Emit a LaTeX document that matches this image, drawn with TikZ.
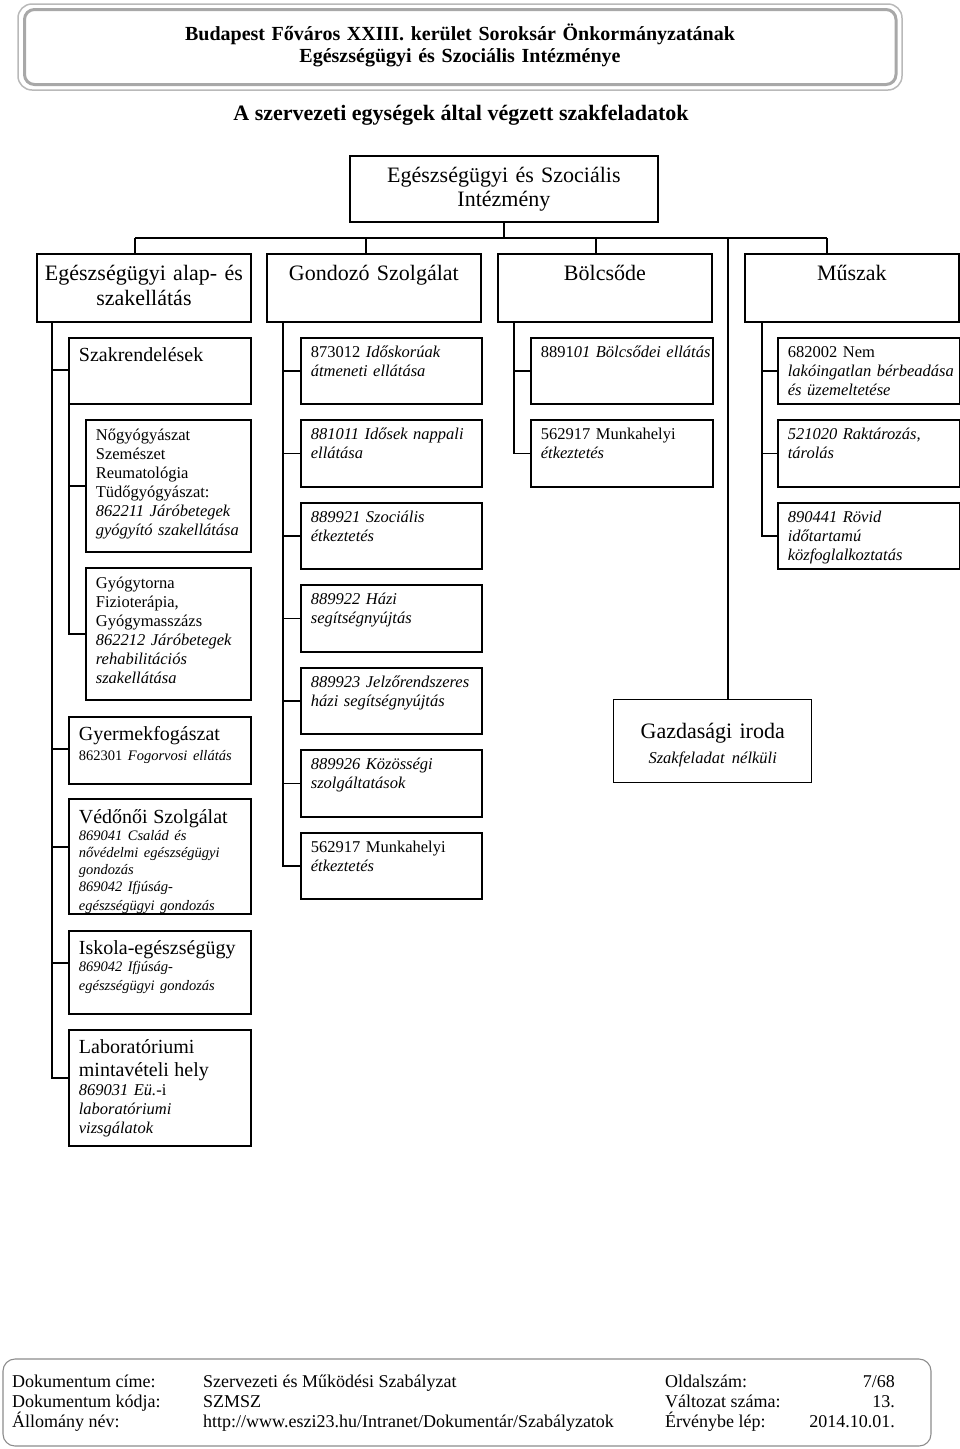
\documentclass[tikz,border=0pt]{standalone}
\usepackage{fontspec}
\setmainfont{Liberation Serif}
\usepackage{xcolor}
\usepackage{tikz}
\usetikzlibrary{positioning,calc}

\definecolor{keret}{RGB}{168,168,168}
\definecolor{keretvilagos}{RGB}{185,185,185}
\definecolor{lablec}{RGB}{140,140,140}

\newcommand{\nagy}{\fontsize{22}{25}\selectfont}
\newcommand{\kozep}{\fontsize{20}{23}\selectfont}
\newcommand{\kicsi}{\fontsize{16.5}{19}\selectfont}
\newcommand{\apro}{\fontsize{14.5}{17}\selectfont}

\tikzset{
  fo/.style={draw, line width=1.8pt, anchor=north west, inner xsep=6pt, inner ysep=0pt,
    text width=202pt, align=center, font=\nagy, text height=27pt, text depth=41pt},
  egyseg/.style={draw, line width=1.8pt, anchor=north west, inner xsep=10pt, inner ysep=0pt,
    text width=#1, align=left, font=\kicsi, text height=20pt},
  egyseg/.default=162pt,
  vonal/.style={line width=1.3pt},
  labtxt/.style={font=\fontsize{18}{21}\selectfont, inner sep=0pt},
}

\begin{document}
\begin{tikzpicture}[x=1pt, y=-1pt]
    \useasboundingbox (0,0) rectangle (960,1449);

    % Header
    \draw[keretvilagos, line width=1.5pt, rounded corners=14pt] (18,4) rectangle (902,90);
    \draw[keret, line width=3pt, rounded corners=10pt] (24.5,9.5) rectangle (896,84.5);
    \node[font=\bfseries\fontsize{20}{22.5}\selectfont, text width=880pt, align=center,
      anchor=base, inner sep=0pt] (fejlec) at (460,40)
      {Budapest Főváros XXIII. kerület Soroksár Önkormányzatának\\ Egészségügyi és Szociális Intézménye};
    \node[font=\bfseries\fontsize{22}{25}\selectfont, anchor=base, inner sep=0pt] (cim) at (461,120)
      {A szervezeti egységek által végzett szakfeladatok};

    % Top box
    \node[fo, text width=296pt, text height=27pt, text depth=39pt, font=\fontsize{22}{24}\selectfont]
      (intezmeny) at (349,155) {Egészségügyi és Szociális\\ Intézmény};

    % Units
    \node[fo] (alap) at (36,253) {Egészségügyi alap- és\\ szakellátás};
    \node[fo] (gondozo) at (266,253) {Gondozó Szolgálat};
    \node[fo] (bolcsode) at (497,253) {Bölcsőde};
    \node[fo] (muszak) at (744,253) {Műszak};

    % Bar
    \coordinate (s1) at (135,238);
    \coordinate (s2) at (366,238);
    \coordinate (s3) at (596,238);
    \coordinate (s4) at (827,238);
    \coordinate (s5) at (728,238);
    \draw[vonal] (intezmeny.south) -- (intezmeny.south |- s1);
    \draw[vonal] (s1) -- (s4);
    \draw[vonal] (s1) -- (s1 |- alap.north);
    \draw[vonal] (s2) -- (s2 |- gondozo.north);
    \draw[vonal] (s3) -- (s3 |- bolcsode.north);
    \draw[vonal] (s4) -- (s4 |- muszak.north);

    % Egeszsegugyi alap- es szakellatas
    \node[egyseg, text height=24pt, text depth=42pt, font=\kozep] (szakrend) at (68,337) {Szakrendelések};
    \node[egyseg=145pt, text height=21pt, text depth=111pt] (nogyogy) at (85,419)
      {Nőgyógyászat\\ Szemészet\\ Reumatológia\\ Tüdőgyógyászat:\\ \textit{862211 Járóbetegek}\\ \mbox{\textit{gyógyító szakellátása}}};
    \node[egyseg=145pt, text height=21pt, text depth=111pt] (gyogytorna) at (85,567)
      {Gyógytorna\\ Fizioterápia,\\ Gyógymasszázs\\ \textit{862212 Járóbetegek}\\ \textit{rehabilitációs}\\ \textit{szakellátása}};
    \node[egyseg, text height=24pt, text depth=43pt] (gyermek) at (68,716)
      {{\kozep Gyermekfogászat\par}\vspace{1pt}\apro 862301 \textit{Fogorvosi ellátás}};
    \node[egyseg, text height=25pt, text depth=90pt] (vedonoi) at (68,798)
      {{\kozep Védőnői Szolgálat\par}\apro\itshape 869041 Család és\\ nővédelmi egészségügyi\\ gondozás\\ 869042 Ifjúság-\\ egészségügyi gondozás};
    \node[egyseg, text height=24pt, text depth=59pt] (iskola) at (68,930)
      {{\kozep \mbox{Iskola-egészségügy}\par}\apro\itshape 869042 Ifjúság-\\ egészségügyi gondozás};
    \node[egyseg, text height=24pt, text depth=92pt] (labor) at (68,1029)
      {{\kozep Laboratóriumi\\ mintavételi hely\par}\textit{869031 Eü.}-i\\ \textit{laboratóriumi}\\ \textit{vizsgálatok}};

    \draw[vonal] ([xshift=16pt]alap.south west) |- ([yshift=-33pt]szakrend.north west);
    \draw[vonal] ([xshift=16pt]alap.south west) |- ([yshift=-33pt]gyermek.north west);
    \draw[vonal] ([xshift=16pt]alap.south west) |- ([yshift=-49pt]vedonoi.north west);
    \draw[vonal] ([xshift=16pt]alap.south west) |- ([yshift=-33pt]iskola.north west);
    \draw[vonal] ([xshift=16pt]alap.south west) |- ([yshift=-49pt]labor.north west);
    \draw[vonal] ([xshift=1pt]szakrend.south west) |- (nogyogy.west);
    \draw[vonal] ([xshift=1pt]szakrend.south west) |- (gyogytorna.west);

    % Gondozo Szolgalat
    \node[egyseg=161pt, text depth=46pt] (idoskor) at (300,337) {873012 \textit{Időskorúak}\\ \textit{átmeneti ellátása}};
    \node[egyseg=161pt, text depth=47pt] (nappali) at (300,419) {\mbox{\textit{881011 Idősek nappali}}\\ \textit{ellátása}};
    \node[egyseg=161pt, text depth=46pt] (szocetk) at (300,502) {\textit{889921 Szociális}\\ \textit{étkeztetés}};
    \node[egyseg=161pt, text depth=47pt] (hazi) at (300,584) {\textit{889922 Házi}\\ \textit{segítségnyújtás}};
    \node[egyseg=161pt, text depth=46pt] (jelzo) at (300,667) {\mbox{\textit{889923 Jelzőrendszeres}}\\ \textit{házi segítségnyújtás}};
    \node[egyseg=161pt, text depth=47pt] (kozossegi) at (300,749) {\textit{889926 Közösségi}\\ \textit{szolgáltatások}};
    \node[egyseg=161pt, text depth=46pt] (munka1) at (300,832) {562917 Munkahelyi\\ \textit{étkeztetés}};

    \draw[vonal] ([xshift=17pt]gondozo.south west) |- (idoskor.west);
    \draw[vonal] ([xshift=17pt]gondozo.south west) |- (nappali.west);
    \draw[vonal] ([xshift=17pt]gondozo.south west) |- (szocetk.west);
    \draw[vonal] ([xshift=17pt]gondozo.south west) |- (hazi.west);
    \draw[vonal] ([xshift=17pt]gondozo.south west) |- (jelzo.west);
    \draw[vonal] ([xshift=17pt]gondozo.south west) |- (kozossegi.west);
    \draw[vonal] ([xshift=17pt]gondozo.south west) |- (munka1.west);

    % Bolcsode
    \node[egyseg, text depth=46pt] (bolcsellat) at (530,337) {\mbox{8891\textit{01 Bölcsődei ellátás}}};
    \node[egyseg, text depth=47pt] (munka2) at (530,419) {562917 Munkahelyi\\ \textit{étkeztetés}};

    \draw[vonal] ([xshift=17pt]bolcsode.south west) |- (bolcsellat.west);
    \draw[vonal] ([xshift=17pt]bolcsode.south west) |- (munka2.west);

    % Muszak
    \node[egyseg, text depth=46pt] (nemlak) at (777,337) {682002 Nem\\ \mbox{\textit{lakóingatlan bérbeadása}}\\ \textit{és üzemeltetése}};
    \node[egyseg, text depth=47pt] (raktar) at (777,419) {\textit{521020 Raktározás,}\\ \textit{tárolás}};
    \node[egyseg, text depth=46pt] (rovid) at (777,502) {\textit{890441 Rövid}\\ \textit{időtartamú}\\ \textit{közfoglalkoztatás}};

    \draw[vonal] ([xshift=18pt]muszak.south west) |- (nemlak.west);
    \draw[vonal] ([xshift=18pt]muszak.south west) |- (raktar.west);
    \draw[vonal] ([xshift=18pt]muszak.south west) |- (rovid.west);

    % Gazdasagi iroda
    \node[egyseg=178pt, line width=1.4pt, align=center, text height=39pt, text depth=44pt, font=\nagy]
      (gazdasagi) at (613,699) {Gazdasági iroda\par\kicsi\itshape Szakfeladat nélküli};
    \draw[vonal] (s5) -- (s5 |- gazdasagi.north);

    % Footer
    \draw[lablec, line width=1.1pt, rounded corners=12pt] (3,1359) rectangle (931,1446);
    \node[labtxt, anchor=base west] (cimke1) at (12,1387) {Dokumentum címe:};
    \node[labtxt, anchor=base west] (cimke2) at (12,1407) {Dokumentum kódja:};
    \node[labtxt, anchor=base west] (cimke3) at (12,1427) {Állomány név:};
    \node[labtxt, anchor=base west] (ertek1) at (203,1387) {Szervezeti és Működési Szabályzat};
    \node[labtxt, anchor=base west] (ertek2) at (203,1407) {SZMSZ};
    \node[labtxt, anchor=base west] (ertek3) at (203,1427) {http://www.eszi23.hu/Intranet/Dokumentár/Szabályzatok};
    \node[labtxt, anchor=base west] (cimke4) at (665,1387) {Oldalszám:};
    \node[labtxt, anchor=base west] (cimke5) at (665,1407) {Változat száma:};
    \node[labtxt, anchor=base west] (cimke6) at (665,1427) {Érvénybe lép:};
    \node[labtxt, anchor=base east] (ertek4) at (895,1387) {7/68};
    \node[labtxt, anchor=base east] (ertek5) at (895,1407) {13.};
    \node[labtxt, anchor=base east] (ertek6) at (895,1427) {2014.10.01.};
\end{tikzpicture}
\end{document}
